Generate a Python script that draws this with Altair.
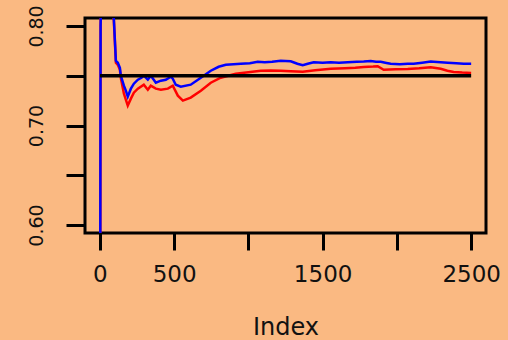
import altair as alt
import pandas as pd

# Blue series (index, value)
blue_idx = [1, 2, 5, 12, 30, 60, 80, 94, 108, 121, 135, 141, 162, 175, 188, 209, 229, 256, 280, 296,
            323, 343, 363, 377, 411, 444, 478, 491, 511, 545, 612, 680, 747, 800, 848, 900, 949, 1010,
            1063, 1110, 1160, 1218, 1250, 1285, 1330, 1366, 1400, 1440, 1500, 1555, 1610, 1669, 1730,
            1777, 1824, 1860, 1891, 1930, 1958, 2020, 2073, 2113, 2170, 2228, 2248, 2295, 2342, 2400,
            2450, 2500]
blue_val = [0.0, 0.5, 0.8, 0.85, 0.86, 0.84, 0.82, 0.808, 0.765, 0.763, 0.758, 0.750, 0.740, 0.735,
            0.729, 0.737, 0.742, 0.746, 0.748, 0.750, 0.746, 0.750, 0.746, 0.743, 0.745, 0.746, 0.749,
            0.747, 0.741, 0.739, 0.741, 0.748, 0.755, 0.759, 0.761, 0.7615, 0.762, 0.7625, 0.764,
            0.7635, 0.764, 0.765, 0.7648, 0.7645, 0.762, 0.7605, 0.762, 0.7635, 0.763, 0.7635, 0.763,
            0.7635, 0.764, 0.7642, 0.7648, 0.764, 0.764, 0.7628, 0.762, 0.7615, 0.762, 0.762, 0.763,
            0.7642, 0.764, 0.7635, 0.763, 0.7625, 0.762, 0.762]

# Red series (index, value)
red_idx = [1, 2, 5, 12, 30, 60, 80, 94, 108, 121, 135, 141, 162, 175, 188, 209, 229, 256, 296, 323,
           343, 377, 411, 458, 491, 525, 559, 612, 680, 747, 814, 915, 1000, 1083, 1150, 1218, 1285,
           1366, 1450, 1555, 1650, 1720, 1777, 1840, 1871, 1911, 1990, 2073, 2150, 2228, 2295, 2340,
           2382, 2440, 2500]
red_val = [0.0, 0.5, 0.8, 0.85, 0.86, 0.84, 0.82, 0.806, 0.763, 0.761, 0.756, 0.748, 0.732, 0.726,
           0.720, 0.727, 0.733, 0.737, 0.741, 0.736, 0.740, 0.737, 0.736, 0.737, 0.740, 0.730, 0.725,
           0.728, 0.735, 0.743, 0.748, 0.752, 0.7535, 0.755, 0.7552, 0.755, 0.7545, 0.754, 0.7555,
           0.757, 0.7575, 0.758, 0.7588, 0.7592, 0.7595, 0.756, 0.7565, 0.7568, 0.7575, 0.7585, 0.757,
           0.755, 0.7538, 0.7532, 0.7528]

# Reference level
ref_idx = [1, 2500]
ref_val = [0.75, 0.75]

x_ticks = [0, 500, 1000, 1500, 2000, 2500]
y_ticks = [0.60, 0.65, 0.70, 0.75, 0.80]

blue_df = pd.DataFrame({"Index": blue_idx, "value": blue_val})
red_df = pd.DataFrame({"Index": red_idx, "value": red_val})
ref_df = pd.DataFrame({"Index": ref_idx, "value": ref_val})

FONT = "DejaVu Sans"

x_enc = alt.X(
    "Index:Q",
    scale=alt.Scale(domain=[-100, 2600], nice=False, zero=False),
    axis=alt.Axis(
        values=x_ticks,
        labelExpr="datum.value == 1000 || datum.value == 2000 ? '' : datum.label",
        format="d",
        tickSize=17, tickWidth=3, tickColor="black",
        domain=False, grid=False,
        labelFont=FONT, labelFontSize=23, labelColor="#111111",
        labelPadding=13, labelFlush=False, labelOverlap=False,
        title="Index", titleFont=FONT, titleFontSize=24, titleFontWeight="normal",
        titleColor="#111111", titleY=101, titleBaseline="alphabetic",
    ),
)
y_enc = alt.Y(
    "value:Q",
    scale=alt.Scale(domain=[0.592, 0.808], nice=False, zero=False),
    axis=alt.Axis(
        values=y_ticks,
        format=".2f",
        labelExpr="datum.value == 0.65 || datum.value == 0.75 ? '' : datum.label",
        tickSize=19, tickWidth=3, tickColor="black",
        domain=False, grid=False,
        labelFont=FONT, labelFontSize=19, labelColor="#111111",
        labelAngle=270, labelAlign="center", labelBaseline="bottom",
        labelPadding=20, labelFlush=False, labelOverlap=False,
        title=None,
    ),
)

blue = alt.Chart(blue_df).mark_line(color="#0000FF", strokeWidth=2.5, clip=True).encode(x=x_enc, y=y_enc)
red = alt.Chart(red_df).mark_line(color="#FF0000", strokeWidth=2.5, clip=True).encode(x=x_enc, y=y_enc)
ref = alt.Chart(ref_df).mark_line(color="black", strokeWidth=3.5, clip=True).encode(x=x_enc, y=y_enc)

chart = (
    alt.layer(red, blue, ref)
    .properties(
        width=401, height=215,
        autosize=alt.AutoSizeParams(type="none"),
        padding={"left": 85, "top": 18, "right": 22, "bottom": 107},
        background="#FAB982",
    )
    .configure_view(stroke="black", strokeWidth=3, fill="#FAB982")
)

chart.save("out.html", embed_options={"renderer": "svg", "actions": False})
